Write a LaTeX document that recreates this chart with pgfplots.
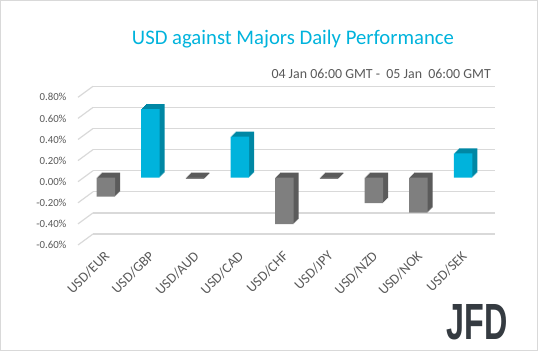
\documentclass[border=0pt]{standalone}
\usepackage{pgfplots}
\pgfplotsset{compat=1.18}
\usepackage{pgfplotstable}
\usepackage{graphicx}
\usepackage{fontspec}
\setmainfont{Carlito}
\newfontfamily\logofont{Liberation Sans}
\definecolor{cblue}{HTML}{00B3DC}
\definecolor{cbluedk}{HTML}{0087A4}
\definecolor{cgrey}{HTML}{7F7F7F}
\definecolor{cgreydk}{HTML}{5B5B5B}
\definecolor{gridc}{HTML}{D9D9D9}
\definecolor{txt}{HTML}{595959}
\definecolor{logoc}{HTML}{353B41}
\pgfplotstableread{
x y
1 0.65
3 0.39
8 0.23
}\bluedata
\pgfplotstableread{
x y
0 -0.18
2 -0.01
4 -0.44
5 -0.01
6 -0.24
7 -0.33
}\greydata
\begin{document}
\begin{tikzpicture}
\useasboundingbox (0pt,0pt) rectangle (538pt,351pt);
\draw[gridc, line width=1pt] (0.5pt,0.5pt) rectangle (537.5pt,350.5pt);
\node[anchor=base, text=cblue, font=\fontsize{20.7}{24}\selectfont, inner sep=0] at (293pt,306pt) {USD against Majors Daily Performance};
\node[anchor=base east, text=txt, font=\fontsize{13.9}{16}\selectfont, inner sep=0] at (491pt,272.7pt) {04 Jan 06:00 GMT -\ \ 05 Jan\ \ 06:00 GMT};
\begin{axis}[
  at={(78pt,106pt)}, anchor=south west, scale only axis,
  width=402pt, height=147.7pt,
  xmin=-0.5, xmax=8.5, ymin=-0.6, ymax=0.8,
  clip=false,
  axis line style={draw=none},
  major tick length=0pt,
  /pgf/number format/assume math mode=true,
  ytick={-0.6,-0.4,-0.2,0,0.2,0.4,0.6,0.8},
  yticklabel={\pgfmathprintnumber[fixed,fixed zerofill,precision=2]{\tick}\%},
  yticklabel style={font=\fontsize{10.8}{12}\selectfont, text=txt, xshift=-8pt},
  xtick={0,1,2,3,4,5,6,7,8},
  xticklabels={USD/EUR,USD/GBP,USD/AUD,USD/CAD,USD/CHF,USD/JPY,USD/NZD,USD/NOK,USD/SEK},
  xticklabel style={font=\fontsize{14}{16}\selectfont, text=txt, rotate=45, anchor=east, xshift=2pt, yshift=-11pt},
  ymajorgrids,
  major grid style={draw=gridc, line width=1.2pt, xshift=15pt, yshift=11pt},
]
\pgfplotsinvokeforeach{-0.6,-0.4,-0.2,0,0.2,0.4,0.6,0.8}{
  \draw[gridc, line width=1.2pt] (axis cs:-0.5,#1) -- ++(15pt,11pt);
}
\pgfplotsinvokeforeach{5,4,3,2,1}{
  \addplot[ybar, bar width=18.5pt, bar shift=0pt, fill=cbluedk, draw=none, xshift={5.5pt+#1pt}, yshift={4pt+#1pt}] table[x=x,y=y] {\bluedata};
  \addplot[ybar, bar width=18.5pt, bar shift=0pt, fill=cgreydk, draw=none, xshift={5.5pt+#1pt}, yshift={4pt+#1pt}] table[x=x,y=y] {\greydata};
}
\addplot[ybar, bar width=18.5pt, bar shift=0pt, fill=cblue, draw=none, xshift=5.5pt, yshift=4pt] table[x=x,y=y] {\bluedata};
\addplot[ybar, bar width=18.5pt, bar shift=0pt, fill=cgrey, draw=none, xshift=5.5pt, yshift=4pt] table[x=x,y=y] {\greydata};
\end{axis}
\node[anchor=south east, inner sep=0] at (508pt,11pt) {\color{logoc}\resizebox{61pt}{35pt}{\logofont\bfseries JFD}};
\end{tikzpicture}
\end{document}
